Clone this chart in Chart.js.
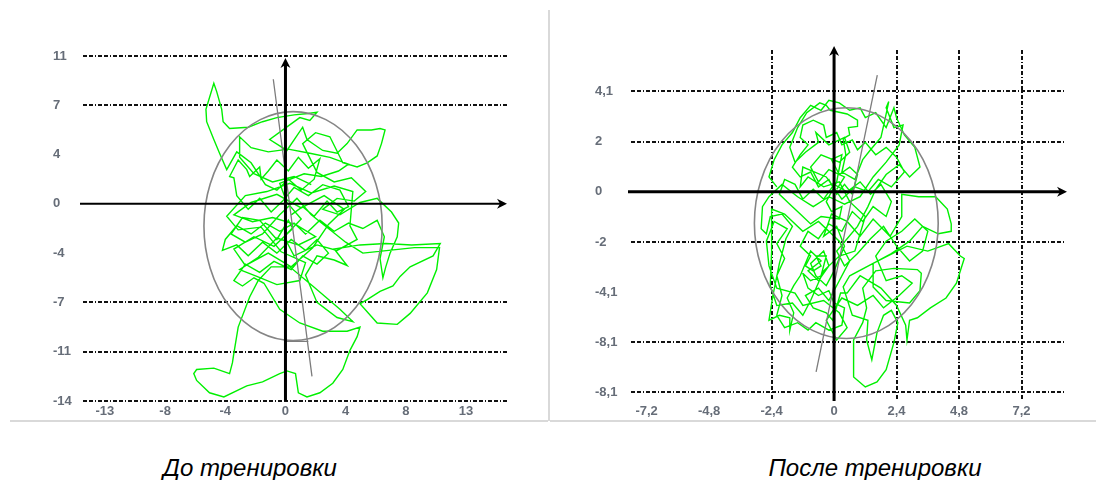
<!DOCTYPE html>
<html>
<head>
<meta charset="utf-8">
<script src="https://cdn.jsdelivr.net/npm/chart.js@4"></script>
<style>
  body { margin: 0; background: #fff; width: 1096px; height: 480px; position: relative; overflow: hidden; }
  .panel { position: absolute; top: 0; width: 548px; height: 430px; }
  .line { position: absolute; background: #d9d9d9; }
  .caption { position: absolute; top: 454px; width: 548px; text-align: center;
             font: italic 24px "Liberation Sans", Arial, sans-serif; color: #000; }
</style>
</head>
<body>
<div class="panel" style="left:0"><canvas id="before" width="548" height="430"></canvas></div>
<div class="panel" style="left:548px"><canvas id="after" width="548" height="430"></canvas></div>
<div class="line" style="left:548px;top:10px;width:2px;height:411px"></div>
<div class="line" style="left:10px;top:420px;width:538px;height:2px"></div>
<div class="line" style="left:550px;top:420px;width:546px;height:2px"></div>
<div class="caption" style="left:-24px">До тренировки</div>
<div class="caption" style="left:601px">После тренировки</div>
<script>
// ---- До тренировки ----
const beforeXTicks = [-12.6, -8.4, -4.2, 0, 4.2, 8.4, 12.6];
const beforeXLabels = ['-13', '-8', '-4', '0', '4', '8', '13'];
const beforeYTicks = [-14.4, -10.8, -7.2, -3.6, 0, 3.6, 7.2, 10.8];
const beforeYLabels = ['-14', '-11', '-7', '-4', '0', '4', '7', '11'];
const beforeHiddenY = [-3.6, 0, 3.6];
const beforeShownX = [];
const beforeEllipse = [0.53, -1.62, 6.22, 8.36]; // cx, cy, rx, ry
const beforeGrayLine = [[-0.85, 9.1], [1.85, -12.6], null, [0.03, -10.05], [1.6, -10.05]];
const beforePath = [
  [0.4,-0.8],[1.2,-0.2],[2.0,-0.9],[2.9,0.2],[3.6,-0.6],[4.4,-0.2],[3.8,1.0],[2.6,1.4],[1.6,0.6],[0.6,1.2],
  [-0.2,0.2],[-1.0,-0.6],[-1.8,0.4],[-2.6,-0.4],[-3.4,0.6],[-3.6,1.9],[-3.9,2.0],[-3.3,3.2],[-2.7,2.5],[-2.5,2.0],
  [-1.8,2.7],[-1.7,1.8],[-1.2,2.4],[-0.6,3.2],[0.2,2.4],[0.9,3.4],[1.6,2.6],[2.4,3.3],[2.0,1.8],[1.1,1.0],
  [0.2,1.8],[-0.6,1.0],[-1.4,1.4],[-2.4,3.0],[-3.4,3.8],[-4.1,2.5],[-4.6,3.7],[-5.0,4.7],[-5.5,6.0],[-5.55,6.9],
  [-5.0,8.8],[-4.8,8.2],[-4.45,6.9],[-4.35,6.0],[-3.9,5.5],[-2.6,5.6],[-1.6,6.0],[-0.6,6.3],[0.6,6.5],[1.6,6.6],
  [2.2,6.7],[1.7,6.1],[1.0,6.3],[0.2,5.7],[-1.1,4.7],[0.1,3.9],[1.2,5.6],[1.5,4.7],[2.6,3.9],[3.6,3.7],
  [4.3,4.4],[5.0,5.4],[6.0,5.4],[6.6,5.5],[6.95,5.4],[6.7,4.4],[6.4,3.5],[5.7,3.0],[5.0,2.7],[4.0,3.0],
  [3.1,4.9],[2.1,5.2],[1.2,4.4],[2.2,2.3],[3.4,1.6],[4.6,1.9],[5.6,0.9],[4.8,0.2],[3.6,0.4],[2.6,-0.4],
  [3.8,-0.8],[5.2,0.1],[6.4,0.4],[7.4,-0.6],[7.9,-1.4],[7.8,-2.4],[7.3,-3.6],[7.0,-4.6],[6.8,-5.4],[6.6,-4.0],
  [6.9,-2.4],[6.4,-1.2],[5.4,-1.8],[4.4,-1.4],[3.4,-2.0],[2.4,-1.2],[1.4,-2.2],[0.6,-1.4],[-0.4,-2.0],[-1.4,-1.4],
  [-2.4,-2.2],[-3.4,-1.6],[-4.2,-2.6],[-4.4,-3.4],[-3.4,-3.0],[-2.6,-3.8],[-1.6,-2.8],[-0.6,-3.6],[0.4,-2.6],[1.4,-3.4],
  [2.2,-2.6],[3.0,-3.6],[2.2,-4.4],[1.2,-3.8],[0.4,-4.8],[-0.8,-4.2],[-1.8,-5.0],[-2.8,-4.4],[-3.6,-5.6],[-3.0,-6.0],
  [-2.2,-5.4],[-1.5,-5.8],[-0.4,-7.7],[1.0,-8.7],[2.6,-9.3],[4.3,-9.3],[5.2,-9.0],[5.0,-9.7],[4.5,-10.7],[4.0,-12.1],
  [3.3,-13.1],[2.4,-13.8],[1.5,-14.1],[0.9,-13.8],[0.7,-12.4],[0.1,-12.2],[-0.4,-12.4],[-1.6,-13.0],[-2.7,-13.3],[-4.3,-14.1],
  [-5.3,-13.8],[-6.2,-12.9],[-6.4,-12.4],[-6.2,-12.1],[-5.0,-12.0],[-3.9,-12.4],[-3.7,-11.6],[-3.6,-10.9],[-3.3,-9.0],[-2.5,-6.8],
  [-1.9,-5.6],[-1.0,-4.6],[0.3,-4.6],[1.9,-6.0],[2.8,-6.8],[3.8,-7.7],[4.7,-8.6],[3.6,-8.3],[2.2,-7.2],[1.4,-5.2],
  [2.2,-3.8],[3.4,-4.1],[4.3,-4.5],[3.4,-3.3],[5.2,-3.0],[7.0,-2.9],[8.8,-3.0],[10.8,-2.9],[10.3,-3.8],[8.7,-4.6],
  [8.0,-5.3],[7.5,-6.0],[6.6,-6.4],[5.7,-7.0],[5.2,-7.3],[6.4,-8.7],[7.8,-8.8],[8.7,-8.0],[9.9,-6.5],[10.55,-4.8],
  [10.75,-3.2],[9.0,-3.2],[7.2,-3.4],[5.4,-3.6],[4.2,-2.8],[3.0,-1.8],[1.8,-0.8],[0.8,0.4],[-0.4,-0.8],[-1.6,-2.2],
  [-2.8,-2.8],[-3.8,-2.2],[-3.0,-1.0],[-1.8,-1.2],[-0.6,-2.6],[0.2,-1.2],
  [0.5,-1.8],[-0.8,-3.1],[-2.2,-2.4],[-3.6,-3.3],[-2.8,-4.5],[-1.2,-3.6],[0.4,-4.6],[1.9,-3.2],[3.0,-1.5],[4.1,-0.4],
  [2.7,0.6],[1.1,-0.3],[-0.6,0.7],[-2.4,0.1],[-3.6,-0.8],[-2.3,-1.3],[-0.9,-1.0],[0.7,-1.5],[2.1,-2.4],[0.9,-3.0],
  [-0.6,-2.5],[-1.9,-3.9],[-3.2,-4.8],[-2.0,-5.3],[-0.6,-5.9],[1.0,-5.6],[1.4,-4.3],[-0.3,-3.5],[-1.7,-1.7],[-3.3,-1.9],
  [-4.1,-0.9],[-2.8,0.6],[-1.3,0.9],[0.3,1.5],[1.8,0.8],[3.4,1.3],[4.7,0.9],[4.5,-1.6],[5.0,-2.6],[3.6,-3.4],
  [2.2,-3.0],[0.6,-3.8],[-0.1,-2.4],[1.1,-1.1],[0.1,0.1],[-0.4,1.5],[1.3,2.2],[2.5,2.0],[3.7,2.4],[4.4,2.9],
  [3.1,3.4],[1.7,3.7],[0.2,4.0],[-1.2,3.8],[-2.4,4.1],[-3.2,4.9],[-3.2,3.4],[-2.2,2.2],[-0.9,1.6],[0.6,2.0],
  [1.8,1.4]
];

// ---- После тренировки ----
const afterXTicks = [-7.2, -4.8, -2.4, 0, 2.4, 4.8, 7.2];
const afterXLabels = ['-7,2', '-4,8', '-2,4', '0', '2,4', '4,8', '7,2'];
const afterYTicks = [-8.12, -6.09, -4.06, -2.03, 0, 2.03, 4.06];
const afterYLabels = ['-8,1', '-8,1', '-4,1', '-2', '0', '2', '4,1'];
const afterHiddenY = [-4.06, 0];
const afterShownX = [-2.4, 2.4, 4.8, 7.2];
const afterEllipse = [0.47, -1.27, 3.53, 4.67];
const afterGrayLine = [[1.66, 4.72], [-0.69, -7.29]];
const afterPath = [
  [0.1,0.1],[0.4,0.6],[-0.2,0.9],[-0.6,0.4],[-0.9,1.0],[-0.5,1.5],[0.2,1.2],[0.6,1.6],[0.4,2.2],[-0.2,1.9],
  [-0.7,2.4],[-0.6,2.0],[-1.1,1.6],[-1.5,1.2],[-1.7,1.8],[-1.4,2.6],[-1.05,3.2],[-0.55,3.6],[-0.3,3.5],[-0.15,3.3],
  [0.5,3.15],[0.9,2.9],[0.9,2.65],[0.55,2.6],[0.6,2.3],[0.35,2.15],[0.45,1.5],[0.3,0.8],[0.8,0.5],[1.1,1.3],
  [1.4,1.7],[1.8,2.2],[1.95,2.9],[2.1,3.65],[2.0,3.4],[2.3,2.6],[2.65,2.7],[2.5,1.9],[2.0,1.2],[1.5,0.6],
  [1.0,-0.2],[0.4,-0.5],[-0.2,-0.2],[-0.8,-0.6],[-1.4,-0.2],[-2.0,0.3],[-2.5,-0.2],[-2.75,-0.6],[-2.8,-1.5],[-2.6,-1.7],
  [-2.45,-1.0],[-2.0,-0.9],[-1.6,-1.4],[-1.85,-1.9],[-2.1,-2.9],[-2.35,-4.2],[-2.5,-5.2],[-2.1,-5.0],[-1.7,-5.1],[-1.7,-5.6],
  [-1.55,-4.9],[-1.8,-4.3],[-1.55,-3.8],[-1.3,-3.4],[-0.9,-2.4],[-0.5,-2.8],[-1.0,-3.2],[-0.6,-3.6],[-0.2,-3.0],[-0.4,-2.4],
  [-0.9,-2.9],[-0.7,-3.4],[-0.3,-3.8],[0.0,-3.2],[0.4,-2.2],[0.1,-1.4],[-0.4,-1.8],[-0.1,-0.9],[0.5,-1.2],[1.0,-1.8],
  [1.5,-1.1],[2.15,-1.8],[2.6,-1.0],[2.6,-0.1],[3.25,-0.2],[3.9,-0.2],[4.35,-0.7],[4.5,-1.3],[4.5,-1.6],[4.0,-1.7],
  [3.4,-1.4],[2.9,-2.0],[2.2,-2.5],[1.5,-2.9],[1.5,-3.85],[2.0,-4.4],[2.9,-4.5],[3.3,-4.0],[3.35,-3.3],[3.2,-3.15],
  [2.3,-3.1],[1.6,-3.2],[1.1,-3.9],[1.25,-4.7],[1.1,-5.3],[0.75,-6.0],[0.75,-7.5],[1.2,-7.9],[1.65,-7.7],[2.0,-7.2],
  [2.3,-6.1],[2.45,-5.3],[2.2,-4.8],[1.9,-5.0],[1.65,-5.7],[1.45,-6.8],[1.25,-6.0],[1.3,-5.2],[0.7,-5.0],[0.35,-3.85],
  [0.6,-3.4],[1.5,-2.9],[2.8,-2.2],[3.6,-2.4],[4.4,-2.1],[4.85,-2.6],[5.0,-2.7],[4.7,-3.7],[4.3,-4.3],[3.7,-4.7],
  [3.2,-5.1],[2.9,-5.2],[2.8,-6.0],[2.75,-5.4],[2.4,-4.6],[1.8,-3.9],[1.0,-3.4],[0.5,-4.1],[0.25,-4.1],[-0.05,-5.2],
  [-0.3,-4.9],[-0.8,-4.7],[-1.1,-4.2],[-0.6,-3.9],[-0.2,-4.4],[0.2,-3.6],[0.6,-2.8],[0.2,-2.0],[-0.6,-1.2],[-1.2,-1.6],
  [-1.9,-0.9],[-2.4,-0.7],[-2.4,-2.4],[-2.45,-3.8],[-2.2,-4.6],[-1.6,-4.5],[-1.2,-5.0],[-0.9,-4.4],[-0.4,-3.2],[0.2,-2.6],
  [0.8,-2.4],[1.2,-1.0],[0.6,-0.4],[0.2,0.4],[-0.4,0.2],[-1.0,0.6],[-1.3,0.2],[-1.2,1.0],[-0.3,0.6],[0.3,-0.3],
  [0.8,0.2],[1.3,0.0],[1.7,0.5],[2.2,0.2],[2.7,0.8],[2.4,1.4],
  [2.0,1.8],[1.6,1.5],[1.2,2.0],[0.9,1.7],[0.7,2.1],[0.3,1.9],[0.1,2.4],[-0.3,2.2],[-0.4,2.7],[-0.8,2.9],
  [-1.2,2.7],[-1.3,2.2],[-1.0,1.9],[-1.3,1.5],[-1.6,1.0],[-1.3,0.6],[-0.9,0.8],[-0.6,0.2],[-0.2,0.5],[0.1,-0.1],
  [0.4,0.3],[0.7,-0.1],[0.9,0.7],[0.6,1.0],[0.2,0.7],[-0.1,1.3],[0.3,1.5],[0.1,0.4],[-0.3,-0.4],[-0.1,-0.8],
  [0.3,-0.6],[0.2,-1.1],[-0.5,-1.0],[-0.9,-1.3],[-1.3,-0.9],[-1.7,-0.5],[-2.1,-0.1],[-1.9,0.5],[-1.5,0.3],[-1.2,-0.3],
  [-0.8,0.1],[-0.4,-0.3],[0.0,0.3],[0.5,0.0],[1.0,0.4],[1.4,-0.1],[1.8,0.3],[2.2,-0.4],[2.0,-1.0],[1.5,-0.6],
  [1.1,-1.2],[0.7,-0.8],[0.3,-1.6],[-0.2,-1.3],[-0.6,-1.9],[-1.0,-1.6],[-1.3,-2.2],[-0.9,-2.6],[-1.1,-3.0],[-0.8,-3.2],
  [-0.5,-3.0],[-0.7,-2.6],[-0.3,-2.6],[-0.5,-3.4],[-0.9,-3.6],[-1.2,-3.3],[-1.0,-3.9],[-0.6,-4.2],[-0.2,-4.0],[0.0,-4.5],
  [0.4,-4.7],[0.3,-5.4],[-0.2,-5.6],[-0.7,-5.3],[-1.0,-5.6],[-1.4,-5.3],[-1.9,-5.5],[-2.2,-5.0],[-2.0,-4.2],[-2.2,-3.4],
  [-1.9,-2.7],[-2.2,-2.1],[-1.8,-1.5],[-2.3,-1.2],[-2.6,-2.0],[-2.5,-3.0],[-2.2,-3.9],[-1.5,-4.1],[-1.2,-4.6],[-0.4,-4.4],
  [0.2,-4.9],[0.5,-5.5],[0.1,-6.0],[-0.3,-5.2],[0.3,-4.3],[0.9,-4.6],[1.5,-4.2],[1.9,-4.7],[2.5,-4.2],[3.0,-3.7],
  [2.6,-3.4],[2.0,-3.6],[1.6,-2.6],[2.0,-2.0],[2.6,-1.6],[3.1,-1.1],[3.6,-1.6],[3.4,-2.4],[2.9,-2.8],[2.4,-2.2],
  [1.9,-1.4],[1.4,-1.9],[0.9,-2.5],[0.4,-3.0],[0.1,-2.4],[0.5,-1.9],[0.9,-1.4],[1.3,-0.6],[1.6,0.1],[2.0,0.7],
  [2.5,1.1],[2.9,0.6],[3.3,1.0],[3.1,1.8],[2.7,2.3],[2.4,3.0],[2.3,3.4],[2.0,2.6],[1.6,3.2],[1.2,3.0],
  [1.0,3.4],[0.6,3.3],[0.2,3.6],[-0.2,3.7],[-0.5,3.3],[-0.9,3.5],[-1.3,3.0],[-1.6,2.4],[-2.0,1.9],[-2.3,1.3],
  [-2.5,0.6],[-2.2,0.2]
];

const LABEL_COLOR = '#666d78';
const LABEL_FONT = { family: '"Liberation Sans", Arial, sans-serif', size: 13, weight: 'bold' };
const DASH = [4, 2, 4, 2, 1, 2];

// ellipse + black axes with arrows, drawn over the traces
const stabPlugin = {
  id: 'stab',
  afterDatasetsDraw(chart, args, o) {
    const { ctx, chartArea: a, scales: { x, y } } = chart;
    const [cx, cy, rx, ry] = o.ellipse;
    const ex = x.getPixelForValue(cx), ey = y.getPixelForValue(cy);
    ctx.save();
    ctx.strokeStyle = '#858585';
    ctx.lineWidth = 1.6;
    ctx.beginPath();
    ctx.ellipse(ex, ey, Math.abs(x.getPixelForValue(cx + rx) - ex), Math.abs(y.getPixelForValue(cy + ry) - ey), 0, 0, Math.PI * 2);
    ctx.stroke();

    const x0 = x.getPixelForValue(0), y0 = y.getPixelForValue(0);
    const tipX = a.right + o.arrowRight, tipY = o.arrowTop;
    ctx.strokeStyle = '#000';
    ctx.fillStyle = '#000';
    ctx.lineWidth = o.hWidth;
    ctx.beginPath(); ctx.moveTo(a.left - 3, y0); ctx.lineTo(tipX - 6, y0); ctx.stroke();
    ctx.beginPath(); ctx.moveTo(tipX, y0); ctx.lineTo(tipX - 10, y0 - 5); ctx.lineTo(tipX - 7, y0); ctx.lineTo(tipX - 10, y0 + 5); ctx.closePath(); ctx.fill();
    ctx.lineWidth = 3;
    ctx.beginPath(); ctx.moveTo(x0, a.bottom); ctx.lineTo(x0, tipY + 6); ctx.stroke();
    ctx.beginPath(); ctx.moveTo(x0, tipY); ctx.lineTo(x0 - 5, tipY + 10); ctx.lineTo(x0, tipY + 7); ctx.lineTo(x0 + 5, tipY + 10); ctx.closePath(); ctx.fill();
    ctx.restore();
  }
};

function toXY(pts) {
  return pts.map(p => p ? { x: p[0], y: p[1] } : { x: null, y: null });
}

function makeChart(id, c) {
  return new Chart(document.getElementById(id), {
    type: 'scatter',
    data: {
      datasets: [
        { data: toXY(c.grayLine), showLine: true, borderColor: '#7c7c7c', borderWidth: 1.3, pointRadius: 0, spanGaps: false },
        { data: toXY(c.path), showLine: true, borderColor: '#00f000', borderWidth: 1.4, pointRadius: 0 }
      ]
    },
    options: {
      responsive: false,
      animation: false,
      layout: { padding: c.padding },
      plugins: { legend: { display: false }, tooltip: { enabled: false }, stab: c.stab },
      scales: {
        x: {
          type: 'linear', min: c.xMin, max: c.xMax,
          afterBuildTicks: ax => { ax.ticks = c.xTicks.map(v => ({ value: v })); },
          afterFit: s => { s.height = 29; },
          grid: {
            drawTicks: false, lineWidth: 2,
            color: ctx => (ctx.tick && c.shownX.includes(ctx.tick.value)) ? '#111' : 'rgba(0,0,0,0)'
          },
          border: { display: false, dash: DASH },
          ticks: { autoSkip: false, maxRotation: 0, padding: 3, color: LABEL_COLOR, font: LABEL_FONT,
                   callback: (v, i) => c.xLabels[i] }
        },
        y: {
          type: 'linear', min: c.yMin, max: c.yMax,
          afterBuildTicks: ax => { ax.ticks = c.yTicks.map(v => ({ value: v })); },
          afterFit: s => { s.width = c.yWidth; },
          grid: {
            drawTicks: false, lineWidth: 2,
            color: ctx => (ctx.tick && c.hiddenY.includes(ctx.tick.value)) ? 'rgba(0,0,0,0)' : '#111'
          },
          border: { display: false, dash: DASH },
          ticks: { autoSkip: false, crossAlign: 'far', color: LABEL_COLOR, font: LABEL_FONT,
                   callback: (v, i) => c.yLabels[i] }
        }
      }
    },
    plugins: [stabPlugin]
  });
}

makeChart('before', {
  path: beforePath, grayLine: beforeGrayLine,
  xTicks: beforeXTicks, xLabels: beforeXLabels, yTicks: beforeYTicks, yLabels: beforeYLabels,
  hiddenY: beforeHiddenY, shownX: beforeShownX,
  xMin: -14.13, xMax: 15.46, yMin: -14.4, yMax: 10.8,
  padding: { left: 53, right: 41, top: 56, bottom: 0 }, yWidth: 30,
  stab: { ellipse: beforeEllipse, hWidth: 2, arrowTop: 58, arrowRight: 0 }
});

makeChart('after', {
  path: afterPath, grayLine: afterGrayLine,
  xTicks: afterXTicks, xLabels: afterXLabels, yTicks: afterYTicks, yLabels: afterYLabels,
  hiddenY: afterHiddenY, shownX: afterShownX,
  xMin: -7.8, xMax: 8.87, yMin: -8.47, yMax: 5.74,
  padding: { left: 47, right: 31, top: 50, bottom: 0 }, yWidth: 36,
  stab: { ellipse: afterEllipse, hWidth: 3, arrowTop: 46, arrowRight: 2 }
});
</script>
</body>
</html>
